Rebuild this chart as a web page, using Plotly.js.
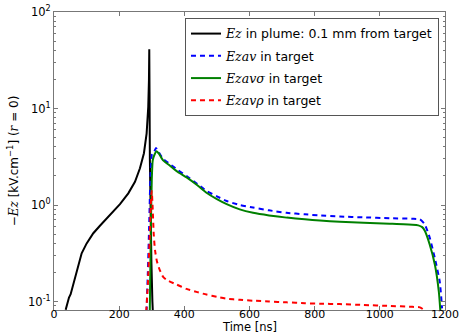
<!DOCTYPE html>
<html><head><meta charset="utf-8">
<script src="https://cdn.plot.ly/plotly-3.0.1.min.js"></script>
<style>html,body{margin:0;padding:0;background:#fff}#c{width:460px;height:336px}</style>
</head><body><div id="c"></div>
<script>
// Ez in plume: 0.1 mm from target
const tPlume = [35.8, 41.9, 46, 51.1, 57.3, 64.4, 74.6, 84.9, 100.2, 120.6, 141, 171.8, 202.5, 228, 248.5, 263.8, 276, 284.3, 289.3, 291.4, 292.4, 293.2, 294.2, 296, 299, 302, 304];
const ePlume = [0.082, 0.0995, 0.11, 0.119, 0.143, 0.181, 0.249, 0.316, 0.40, 0.51, 0.61, 0.79, 1.02, 1.32, 1.74, 2.4, 3.44, 5.53, 10.4, 19.7, 41, 15, 3, 0.8, 0.25, 0.1, 0.07];
// Ezav in target
const tAv = [284, 288, 292, 296, 300, 303, 308, 313, 320, 335, 356, 380, 407, 440, 468, 500, 530, 570, 611, 660, 714, 770, 816, 877, 950, 1030, 1100, 1123, 1138, 1153, 1169, 1184, 1191];
const eAv = [0.078, 0.2, 0.6, 2.0, 3.3, 3.5, 3.6, 3.9, 3.6, 3.0, 2.65, 2.3, 2.0, 1.65, 1.4, 1.23, 1.1, 1.0, 0.94, 0.88, 0.83, 0.8, 0.78, 0.76, 0.745, 0.73, 0.72, 0.71, 0.63, 0.46, 0.28, 0.16, 0.085];
// Ezav sigma in target
const tSig = [294, 297, 300, 303, 308, 315, 322, 335, 356, 380, 407, 440, 468, 500, 530, 570, 611, 660, 714, 770, 816, 877, 950, 1030, 1100, 1118, 1130, 1138, 1153, 1169, 1181, 1186];
const eSig = [0.078, 0.5, 1.8, 2.9, 3.3, 3.6, 3.4, 2.9, 2.55, 2.2, 1.93, 1.6, 1.34, 1.15, 1.02, 0.9, 0.83, 0.78, 0.74, 0.71, 0.69, 0.67, 0.655, 0.64, 0.625, 0.615, 0.59, 0.54, 0.39, 0.24, 0.127, 0.078];
// Ezav rho in target
const tRho = [283, 288, 293, 297, 300, 303, 306, 310, 316, 325, 335, 346, 376, 407, 440, 468, 500, 530, 570, 611, 660, 714, 770, 816, 877, 950, 1030, 1100, 1123, 1135, 1140];
const eRho = [0.078, 0.15, 0.4, 1.0, 1.4, 0.9, 0.5, 0.34, 0.26, 0.21, 0.18, 0.167, 0.15, 0.135, 0.125, 0.118, 0.112, 0.107, 0.104, 0.102, 0.1, 0.098, 0.096, 0.095, 0.094, 0.092, 0.09, 0.088, 0.087, 0.082, 0.078];

const yTickVals = [0.1, 1, 10, 100];
const yTickText = ['10<sup>-1</sup>', '10<sup>0</sup>', '10<sup>1</sup>', '10<sup>2</sup>'];
const xTickVals = [0, 200, 400, 600, 800, 1000, 1200];

const M = (s) => '<span style="font-family:DejaVu Serif;font-style:italic">' + s + '</span>';
const names = [
  M('Ez') + ' in plume: 0.1 mm from target',
  M('Ezav') + ' in target',
  M('Ezavσ') + ' in target',
  M('Ezavρ') + ' in target'
];

const traces = [
  {x: tPlume, y: ePlume, name: names[0], legendgroup: 'a', mode: 'lines', line: {color: '#000000', width: 2}},
  {x: tAv, y: eAv, name: names[1], legendgroup: 'b', mode: 'lines', line: {color: '#0000ff', width: 2, dash: '5px,4px', shape: 'spline', smoothing: 0.5}},
  {x: tSig, y: eSig, name: names[2], legendgroup: 'c', mode: 'lines', line: {color: '#008000', width: 2, shape: 'spline', smoothing: 0.5}},
  {x: tRho, y: eRho, name: names[3], legendgroup: 'd', mode: 'lines', line: {color: '#ff0000', width: 2, dash: '5px,4px', shape: 'spline', smoothing: 0.5}}
];

const axisCommon = {
  showgrid: false, zeroline: false, showline: true, linecolor: '#777', linewidth: 1,
  mirror: 'allticks', ticks: 'inside', tickcolor: '#777', ticklen: 4,
  tickfont: {family: 'DejaVu Sans', size: 11.5, color: '#000'}
};

const layout = {
  width: 460, height: 336,
  margin: {l: 54, r: 15, t: 12, b: 26},
  paper_bgcolor: '#fff', plot_bgcolor: '#fff',
  font: {family: 'DejaVu Sans', color: '#000'},
  showlegend: true,
  legend: {
    x: 0.335, y: 0.98, xanchor: 'left', yanchor: 'top',
    bordercolor: '#555', borderwidth: 1, bgcolor: '#fff',
    font: {family: 'DejaVu Sans', size: 12.5, color: '#000'},
    traceorder: 'grouped', tracegroupgap: 3, itemwidth: 30
  },
  xaxis: Object.assign({}, axisCommon, {
    range: [0, 1200], tickvals: xTickVals, ticktext: xTickVals.map(String),
    tickfont: {family: 'DejaVu Sans', size: 11, color: '#000'},
    ticklabelstandoff: -6
  }),
  yaxis: Object.assign({}, axisCommon, {
    type: 'log', range: [-1.088, 2], tickvals: yTickVals, ticktext: yTickText,
    minor: {ticks: 'inside', ticklen: 2, tickcolor: '#777', dtick: 'D1'},
    title: {text: '−' + M('Ez') + ' [kV.cm<sup>−1</sup>] (' + M('r') + ' = 0)', font: {family: 'DejaVu Sans', size: 12}, standoff: 6}
  }),
  annotations: [{
    text: 'Time [ns]', xref: 'paper', yref: 'paper', x: 0.5, y: -0.083,
    xanchor: 'center', yanchor: 'bottom', showarrow: false, borderpad: 0,
    font: {family: 'DejaVu Sans', size: 11.5, color: '#000'}
  }]
};

Plotly.newPlot('c', traces, layout, {staticPlot: true, displayModeBar: false});
</script></body></html>
